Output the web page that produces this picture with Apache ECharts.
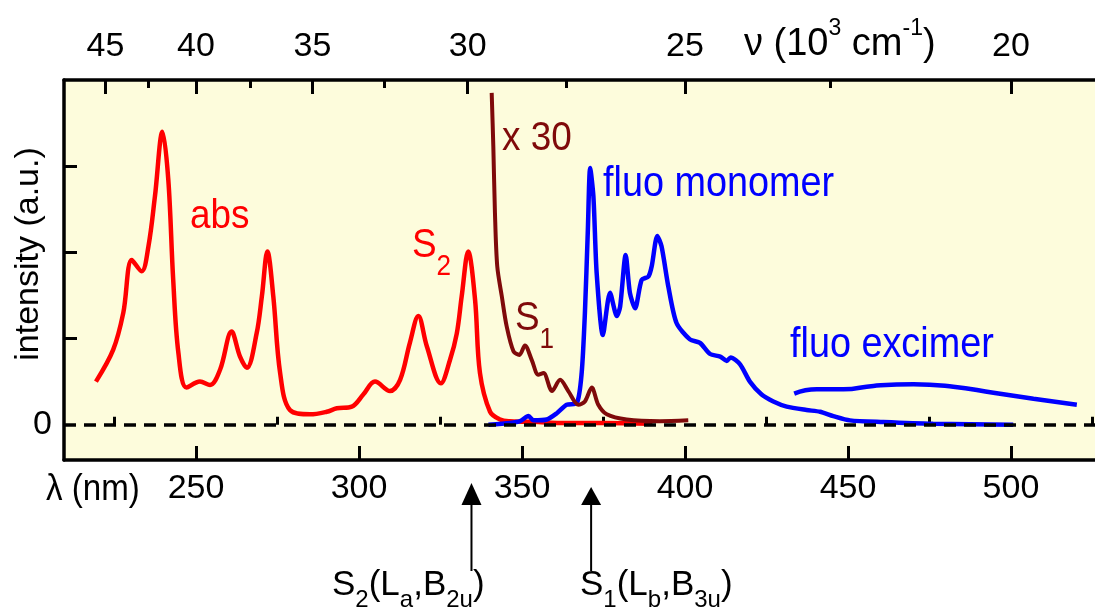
<!DOCTYPE html>
<html><head><meta charset="utf-8">
<script src="https://cdn.jsdelivr.net/npm/echarts@6/dist/echarts.min.js"></script>
<style>html,body{margin:0;padding:0;background:#fff}#c{width:1095px;height:608px}</style>
</head><body><div id="c"></div>
<script>
// ---- data (wavelength in nm, intensity in a.u.) ----
const absLambda = [219.3,224.6,227.7,230.3,233.3,235.4,237.4,239.7,241.5,243.0,244.6,247.1,251.2,254.3,257.4,260.9,263.5,265.6,268.6,270.2,271.9,273.7,275.8,278.8,285.0,290.1,293.2,297.8,301.3,304.9,309.5,312.6,315.6,318.2,320.8,325.1,327.9,330.0,331.5,333.5,335.6,337.1,340.2,343.3,346.3,355.0,361.7,375.0,390.0];
const absInt    = [0.50,0.87,1.30,1.91,1.78,2.07,2.65,3.40,2.84,1.68,0.83,0.43,0.50,0.46,0.64,1.08,0.79,0.66,1.06,1.49,2.01,1.49,0.60,0.17,0.12,0.15,0.19,0.21,0.35,0.50,0.39,0.52,0.95,1.26,0.91,0.48,0.75,1.06,1.49,2.01,1.45,0.60,0.15,0.06,0.04,0.03,0.02,0.02,0.01];

const x30Lambda = [340.7,341.2,341.7,342.4,343.8,345.3,347.4,349.2,350.9,353.0,355.0,356.6,359.2,361.7,364.2,367.3,369.3,371.4,373.4,376.0,382.1,392.3,401.0];
const x30Int    = [3.85,3.23,2.46,1.84,1.49,1.14,0.85,0.81,0.92,0.75,0.58,0.60,0.39,0.52,0.39,0.23,0.27,0.43,0.23,0.12,0.06,0.04,0.05];

const monoLambda = [339.7,346.3,349.4,352.0,353.5,357.6,360.6,363.7,366.8,368.3,369.3,370.2,370.9,371.9,372.9,374.8,377.0,379.1,380.1,381.8,383.1,384.7,386.7,388.8,389.8,391.5,392.8,394.9,397.4,401.5,404.6,407.7,410.8,412.8,414.0,416.9,419.9,423.5,427.1,431.2,437.3,441.4,445.5,450.6,460.8,476.1,500.7];
const monoInt    = [0.00,0.02,0.04,0.10,0.05,0.06,0.13,0.23,0.25,0.60,1.30,2.26,2.98,2.65,1.76,1.04,1.53,1.26,1.37,1.97,1.53,1.35,1.68,1.72,1.84,2.19,2.07,1.60,1.18,0.99,0.95,0.82,0.79,0.74,0.78,0.70,0.50,0.35,0.27,0.21,0.17,0.15,0.10,0.05,0.03,0.01,0.00];

const excLambda = [433.5,440.4,448.6,457.8,470.1,482.3,494.6,506.9,520.2];
const excInt    = [0.36,0.41,0.41,0.45,0.47,0.44,0.37,0.30,0.23];

// axis ticks / labels
const lambdaMajor = [250,300,350,400,450,500];
const lambdaMinor = [225,275,325,375,425,475,525];
const nuMajor = [45,40,35,30,25,20];          // 10^3 cm^-1
const nuMinor = [42.5,37.5,32.5,27.5,22.5];
const yTickValues = [1,2,3];
const yLabelValues = [0];
// transition markers (nm)
const markerLambda = [334.5, 371.2];

const X_MIN = 209.5, X_MAX = 527, Y_MIN = -0.41, Y_MAX = 4.0;
const nuToLambda = nu => 10000 / nu;
const zip = (a, b) => a.map((v, i) => [v, b[i]]);

const FONT = '"Liberation Sans", Arial, sans-serif';
const chart = echarts.init(document.getElementById('c'), null, {renderer: 'canvas'});

function xAx(extra) {
  return Object.assign({
    type: 'value', min: X_MIN, max: X_MAX, gridIndex: 0, offset: 0,
    splitLine: {show: false}, axisLine: {show: false},
    axisLabel: {show: false}, axisTick: {show: false}
  }, extra);
}

const option = {
  animation: false,
  backgroundColor: '#ffffff',
  grid: {left: 64, top: 80, width: 1035, height: 380, show: true,
         backgroundColor: '#fdfcdc', borderWidth: 0, containLabel: false, outerBoundsMode: 'none'},
  xAxis: [
    xAx({position: 'bottom',
         axisLine: {show: true, onZero: false, lineStyle: {color: '#000', width: 3.5}},
         axisTick: {show: true, inside: true, length: 14, lineStyle: {color: '#000', width: 3}, customValues: lambdaMajor},
         axisLabel: {show: true, customValues: lambdaMajor, color: '#000', fontSize: 34, fontFamily: FONT, margin: 12}}),
    xAx({position: 'bottom',
         axisTick: {show: true, inside: true, length: 8, lineStyle: {color: '#000', width: 3}, customValues: lambdaMinor}}),
    xAx({position: 'top',
         axisLine: {show: true, onZero: false, lineStyle: {color: '#000', width: 3.5}},
         axisTick: {show: true, inside: true, length: 14, lineStyle: {color: '#000', width: 3}, customValues: nuMajor.map(nuToLambda)},
         axisLabel: {show: true, customValues: nuMajor.map(nuToLambda), color: '#000', fontSize: 34, fontFamily: FONT, margin: 16,
                     formatter: v => String(Math.round(10000 / v))}}),
    xAx({position: 'top',
         axisTick: {show: true, inside: true, length: 8, lineStyle: {color: '#000', width: 3}, customValues: nuMinor.map(nuToLambda)}})
  ],
  yAxis: [{
    type: 'value', min: Y_MIN, max: Y_MAX, position: 'left',
    splitLine: {show: false},
    axisLine: {show: true, onZero: false, lineStyle: {color: '#000', width: 3.5}},
    axisTick: {show: true, inside: true, length: 13, lineStyle: {color: '#000', width: 3}, customValues: yTickValues},
    axisLabel: {show: true, customValues: yLabelValues, color: '#000', fontSize: 34, fontFamily: FONT, margin: 12}
  }],
  series: [
    {name: 'abs', type: 'line', data: zip(absLambda, absInt), showSymbol: false, symbol: 'none', smooth: 0.35,
     lineStyle: {color: '#ff0000', width: 4.5}, z: 2},
    {name: 'x30', type: 'line', data: zip(x30Lambda, x30Int), showSymbol: false, symbol: 'none', smooth: 0.3,
     lineStyle: {color: '#7f0a0a', width: 4}, z: 3},
    {name: 'mono', type: 'line', data: zip(monoLambda, monoInt), showSymbol: false, symbol: 'none', smooth: 0.25,
     lineStyle: {color: '#0000ff', width: 4.5}, z: 2},
    {name: 'exc', type: 'line', data: zip(excLambda, excInt), showSymbol: false, symbol: 'none', smooth: 0.5,
     lineStyle: {color: '#0000ff', width: 4.5}, z: 2},
    {name: 'zero', type: 'line', data: [], z: 6,
     markLine: {silent: true, symbol: 'none', label: {show: false},
                lineStyle: {color: '#000', type: [12, 8], width: 3.5}, data: [{yAxis: 0}]}}
  ]
};
chart.setOption(option);

// ---- annotations ----
function txt(x, y, text, color, size, extra) {
  return {type: 'text', x: x, y: y, z: 30, scaleX: 0.9,
    style: Object.assign({text: text, fill: color, fontSize: size, fontFamily: FONT, verticalAlign: 'middle', align: 'left'}, extra || {})};
}
const graphics = [
  txt(190, 217, 'abs', '#ff0000', 41),
  txt(412, 246, 'S{sub|2}', '#ff0000', 41, {lineHeight: 70, rich: {sub: {fontSize: 29, verticalAlign: 'bottom', fill: '#ff0000', fontFamily: FONT}}}),
  txt(502, 139, 'x 30', '#7f0a0a', 41),
  txt(515, 319, 'S{sub|1}', '#7f0a0a', 41, {lineHeight: 70, rich: {sub: {fontSize: 29, verticalAlign: 'bottom', fill: '#7f0a0a', fontFamily: FONT}}}),
  txt(603, 184, 'fluo monomer', '#0000ff', 42),
  txt(790, 345, 'fluo excimer', '#0000ff', 42),
  // axis titles
  {type: 'text', x: 29, y: 254, rotation: Math.PI / 2, z: 30,
   style: {text: 'intensity (a.u.)', fill: '#000', fontSize: 34, fontFamily: FONT, align: 'center', verticalAlign: 'middle'}},
  {type: 'text', x: 46, y: 490, z: 30, scaleX: 0.92,
   style: {text: 'λ (nm)', fill: '#000', fontSize: 36, fontFamily: FONT, align: 'left', verticalAlign: 'middle'}},
  {type: 'text', x: 744, y: 45, z: 30,
   style: {text: 'ν (10{sup|3} cm{sup|-1})', fill: '#000', fontSize: 38, fontFamily: FONT, lineHeight: 56,
           align: 'left', verticalAlign: 'middle',
           rich: {sup: {fontSize: 23, verticalAlign: 'top', fill: '#000', fontFamily: FONT}}}}
];
const subRich = {sub: {fontSize: 24, verticalAlign: 'bottom', fill: '#000', fontFamily: FONT}};
const markerLabels = ['S{sub|2}(L{sub|a},B{sub|2u})', 'S{sub|1}(L{sub|b},B{sub|3u})'];
const markerTips = [483, 487];
markerLambda.forEach((lam, i) => {
  const px = chart.convertToPixel({xAxisIndex: 0}, lam);
  graphics.push({type: 'polygon', z: 30, shape: {points: [[px - 10, 505], [px + 10, 505], [px, markerTips[i]]]}, style: {fill: '#000'}});
  graphics.push({type: 'line', z: 30, shape: {x1: px, y1: 505, x2: px, y2: 571}, style: {stroke: '#000', lineWidth: 2}});
});
graphics.push({type: 'text', x: 332, y: 585, z: 30,
  style: {text: markerLabels[0], fill: '#000', fontSize: 35, fontFamily: FONT, lineHeight: 54, align: 'left', verticalAlign: 'middle', rich: subRich}});
graphics.push({type: 'text', x: 580, y: 585, z: 30,
  style: {text: markerLabels[1], fill: '#000', fontSize: 35, fontFamily: FONT, lineHeight: 54, align: 'left', verticalAlign: 'middle', rich: subRich}});
chart.setOption({graphic: graphics});
</script>
</body></html>
